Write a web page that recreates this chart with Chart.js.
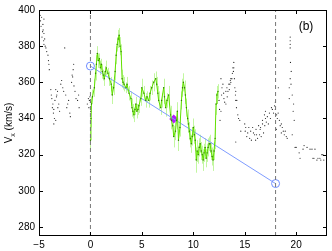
<!DOCTYPE html>
<html>
<head>
<meta charset="utf-8">
<script src="https://cdn.jsdelivr.net/npm/chart.js@4.4.1/dist/chart.umd.min.js"></script>
<style>
  html, body { margin: 0; padding: 0; background: #fff; }
  #wrap { width: 332px; height: 251px; }
</style>
</head>
<body>
<div id="wrap"><canvas id="vxChart"></canvas></div>
<script>
// axis ticks
const xTicks = [-5, 0, 5, 10, 15, 20];
const yTicks = [280, 300, 320, 340, 360, 380, 400];

// black scattered samples [x, Vx]
const blackPts = [
    [-4.9,397],[-4.85,394],[-4.8,391],[-4.75,396],[-4.71,385],[-4.65,388],[-4.62,392],[-4.6,389],
    [-4.55,383],[-4.52,395],[-4.52,387],[-4.52,381],[-4.45,384],[-4.4,380],[-4.33,379],[-4.25,377],
    [-4.13,375],[-4.08,372],[-4.04,370],[-4.0,367],[-3.85,356],[-3.8,353],[-3.75,351],[-3.7,346],
    [-3.65,348],[-3.6,343],[-3.56,345],[-3.5,340],[-3.45,350],[-3.37,356],[-3.37,339],[-3.3,352],
    [-3.27,353],[-3.2,355],[-3.17,346],[-3.08,348],[-3.0,344],[-2.88,359],[-2.8,361],[-2.69,357],
    [-2.6,355],[-2.5,379],[-2.4,353],[-2.3,346],[-2.21,348],[-2.12,350],[-2.0,343],[-1.95,341],
    [-1.83,360],[-1.78,364],[-1.73,363],[-1.68,367],[-1.63,370],[-1.6,358],[-1.5,355],[-1.4,351],
    [-1.25,350],[-1.15,353],[-1.1,346],[-4.71,340],[-3.56,337],[-0.3,348],[-0.2,351],[-0.15,346],
    [-0.1,350],[-0.05,352],[0.0,349],[0.02,344],
    [12.5,350],[12.55,345],[12.6,339],[12.69,344],[12.69,362],[12.75,353],[12.79,357],[12.88,359],
    [12.95,354],[12.98,351],[13.05,349],[13.17,348],[13.17,355],[13.27,357],[13.3,352],[13.37,355],
    [13.46,359],[13.5,356],[13.56,359],[13.6,361],[13.65,362],[13.65,360],[13.75,362],[13.8,365],
    [13.85,368],[13.9,366],[13.94,371],[13.94,368],[14.0,362],[14.04,357],[14.1,353],[14.13,350],
    [14.13,355],[14.2,346],[14.23,350],[14.33,342],[14.4,340],[14.52,339],[14.62,333],[14.13,327],
    [15.0,337],[15.05,333],[15.1,335],[15.2,330],[15.29,332],[15.4,335],[15.48,329],[15.58,333],
    [15.65,328],[15.77,335],[15.85,332],[15.96,331],[16.06,328],[16.1,334],[16.15,331],[16.25,329],
    [16.35,336],[16.44,331],[16.5,334],[16.54,335],[16.6,330],[16.73,339],[16.73,337],[16.83,332],
    [16.92,342],[16.95,336],[17.02,344],[17.02,340],[17.1,338],[17.2,341],[17.3,337],[17.4,343],
    [17.5,340],[17.6,346],[17.69,345],[17.8,343],[17.9,347],[17.98,349],[17.98,345],[18.08,334],
    [18.1,342],[18.17,340],[18.25,343],[18.27,357],[18.37,339],[18.45,336],[18.56,332],[18.56,337],
    [18.65,335],[18.75,333],[18.85,331],[18.94,333],[19.04,330],[19.13,329],[19.33,357],[19.33,351],
    [19.42,385],[19.42,383],[19.42,381],[19.42,379],[19.45,371],[19.52,366],[19.42,362],[19.5,359],
    [19.62,353],[19.71,344],[19.75,348],[19.81,339],[19.62,331],[19.9,324],[20.0,324],[20.29,321],
    [20.38,318],[20.67,323],[20.77,325],[21.06,324],[21.35,323],[21.54,323],[21.63,318],[21.73,318],
    [21.83,323],[22.02,317],[22.12,318],[22.31,318],[22.4,317],[22.5,320],[22.6,320],[22.69,317]
];

// green series [x, Vx, error]
const greenPts = [
    [0.0,328,6],[0.05,340,5],[0.1,348,4],[0.2,352,4],[0.38,357,5],[0.5,365,4],[0.58,370,5],[0.67,376,4],
    [0.77,372,4],[0.87,373,3],[0.96,368,4],[1.06,370,3],[1.15,366,4],[1.25,364,3],[1.35,362,4],[1.45,366,3],
    [1.54,368,4],[1.7,365,3],[1.85,362,4],[2.02,359,4],[2.12,353,5],[2.25,357,4],[2.4,366,5],[2.5,375,5],
    [2.6,381,4],[2.7,384,5],[2.79,386,4],[2.88,380,5],[2.98,377,4],[3.08,362,5],[3.17,360,4],[3.27,359,4],
    [3.46,357,3],[3.56,359,4],[3.75,354,4],[3.94,351,4],[4.04,346,5],[4.13,344,4],[4.23,342,4],[4.33,345,3],
    [4.42,348,4],[4.52,344,4],[4.62,345,3],[4.71,347,4],[4.9,351,4],[5.0,357,5],[5.2,354,4],[5.38,350,4],
    [5.5,352,3],[5.67,350,4],[5.8,354,4],[5.96,357,4],[6.15,360,5],[6.35,362,4],[6.44,359,4],[6.55,354,4],
    [6.63,350,5],[6.83,346,4],[6.92,350,4],[7.12,357,5],[7.2,352,4],[7.31,346,5],[7.45,350,4],[7.6,353,5],
    [7.79,342,5],[7.88,339,5],[8.0,336,6],[8.1,330,6],[8.27,333,5],[8.37,339,5],[8.45,344,5],[8.56,328,6],
    [8.7,335,5],[8.85,350,5],[8.95,357,5],[9.04,360,5],[9.15,357,4],[9.23,353,5],[9.33,346,5],[9.45,340,5],
    [9.52,337,5],[9.62,333,5],[9.71,329,5],[9.81,326,5],[9.9,330,5],[10.0,335,5],[10.1,331,5],[10.19,328,6],
    [10.29,317,7],[10.38,322,6],[10.48,320,5],[10.58,324,5],[10.67,326,5],[10.77,322,5],[10.87,320,5],[10.96,317,6],
    [11.05,321,5],[11.15,324,5],[11.25,318,5],[11.35,321,5],[11.44,324,5],[11.54,326,4],[11.63,326,5],[11.73,322,5],
    [11.83,319,5],[11.92,317,6],[12.02,322,5],[12.12,329,6],[12.21,348,6],[12.3,353,5],[12.4,355,4]
];

// linear trend end points, marked point, event lines
const fitPts = [[0, 369], [18, 304]];
const markPts = [[8.1, 339.7]];
const eventX = [0, 18];

const toXY = arr => arr.map(p => ({ x: p[0], y: p[1] }));

const errorBars = {
    id: 'errorBars',
    beforeDatasetsDraw(chart) {
        const { ctx, scales: { x, y } } = chart;
        ctx.save();
        ctx.strokeStyle = '#c2f7a0';
        ctx.lineWidth = 1;
        greenPts.forEach(p => {
            const px = Math.round(x.getPixelForValue(p[0])) + 0.5;
            ctx.beginPath();
            ctx.moveTo(px, y.getPixelForValue(p[1] - p[2]));
            ctx.lineTo(px, y.getPixelForValue(p[1] + p[2]));
            ctx.stroke();
        });
        ctx.restore();
    }
};

const frame = {
    id: 'frame',
    afterDraw(chart) {
        const { ctx, chartArea: a, scales: { x, y } } = chart;
        ctx.save();
        ctx.strokeStyle = '#000';
        ctx.lineWidth = 1;
        ctx.strokeRect(a.left + 0.5, a.top + 0.5, a.right - a.left - 1, a.bottom - a.top - 1);
        ctx.beginPath();
        xTicks.forEach(v => {
            const px = Math.round(x.getPixelForValue(v)) + 0.5;
            ctx.moveTo(px, a.bottom); ctx.lineTo(px, a.bottom - 4);
            ctx.moveTo(px, a.top); ctx.lineTo(px, a.top + 4);
        });
        yTicks.forEach(v => {
            const py = Math.round(y.getPixelForValue(v)) + 0.5;
            ctx.moveTo(a.left, py); ctx.lineTo(a.left + 4, py);
            ctx.moveTo(a.right, py); ctx.lineTo(a.right - 4, py);
        });
        ctx.stroke();

        // panel tag
        ctx.fillStyle = '#000';
        ctx.font = '12px "Liberation Sans", Arial, sans-serif';
        ctx.textAlign = 'center';
        ctx.textBaseline = 'middle';
        ctx.fillText('(b)', 306, 27);

        // y title with subscript
        const big = '10px "Liberation Sans", Arial, sans-serif';
        const small = '7px "Liberation Sans", Arial, sans-serif';
        ctx.font = big; const wV = ctx.measureText('V').width;
        const wU = ctx.measureText(' (km/s)').width;
        ctx.font = small; const wX = ctx.measureText('x').width;
        const total = wV + wX + wU;
        ctx.translate(12, (a.top + a.bottom) / 2);
        ctx.rotate(-Math.PI / 2);
        ctx.textAlign = 'left';
        ctx.textBaseline = 'alphabetic';
        let cx = -total / 2;
        ctx.font = big; ctx.fillText('V', cx, 0); cx += wV;
        ctx.font = small; ctx.fillText('x', cx, 3); cx += wX;
        ctx.font = big; ctx.fillText(' (km/s)', cx, 0);
        ctx.restore();
    }
};

const datasets = [];
eventX.forEach(v => {
    datasets.push({
        data: [{ x: v, y: 275 }, { x: v, y: 400 }],
        showLine: true,
        borderColor: '#777',
        borderWidth: 1,
        borderDash: [4, 3],
        pointRadius: 0
    });
});
datasets.push({
    data: toXY(blackPts),
    pointRadius: 0.6,
    pointBackgroundColor: '#222',
    pointBorderWidth: 0
});
datasets.push({
    data: toXY(greenPts),
    showLine: true,
    borderColor: '#62e000',
    borderWidth: 1,
    pointRadius: 0.7,
    pointBackgroundColor: '#2f7a00',
    pointBorderWidth: 0
});
datasets.push({
    data: toXY(fitPts),
    showLine: true,
    borderColor: '#7f9cff',
    borderWidth: 1,
    pointRadius: 4,
    pointStyle: 'circle',
    pointBackgroundColor: 'rgba(0,0,0,0)',
    pointBorderColor: '#6f8cff',
    pointBorderWidth: 1
});
datasets.push({
    data: toXY(markPts),
    pointStyle: 'rectRot',
    pointRadius: 4.5,
    pointBackgroundColor: '#b21cff',
    pointBorderColor: '#b21cff',
    pointBorderWidth: 0
});

const tickFont = { family: '"Liberation Sans", Arial, sans-serif', size: 10 };

new Chart(document.getElementById('vxChart'), {
    type: 'scatter',
    data: { datasets: datasets },
    options: {
        responsive: true,
        maintainAspectRatio: false,
        animation: false,
        events: [],
        layout: { padding: { top: 8, right: 2, left: 0, bottom: 0 } },
        plugins: {
            legend: { display: false },
            tooltip: { enabled: false }
        },
        scales: {
            x: {
                type: 'linear',
                min: -5,
                max: 23,
                afterBuildTicks: s => { s.ticks = xTicks.map(v => ({ value: v })); },
                afterFit: s => { s.height = 15; },
                grid: { display: false, drawTicks: false },
                border: { display: false },
                ticks: {
                    color: '#000',
                    font: tickFont,
                    padding: 3,
                    maxRotation: 0,
                    callback: v => String(v).replace('-', '\u2212')
                }
            },
            y: {
                type: 'linear',
                min: 275,
                max: 400,
                afterBuildTicks: s => { s.ticks = yTicks.map(v => ({ value: v })); },
                afterFit: s => { s.width = 39; },
                grid: { display: false, drawTicks: false },
                border: { display: false },
                ticks: { color: '#000', font: tickFont, padding: 4 }
            }
        }
    },
    plugins: [errorBars, frame]
});
</script>
</body>
</html>
